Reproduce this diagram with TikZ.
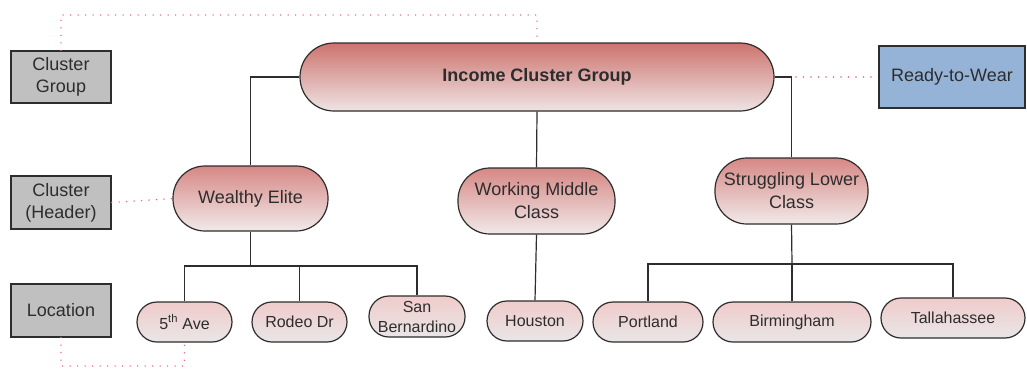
\documentclass[tikz,border=0pt]{standalone}
\usepackage{fontspec}
\setmainfont{Liberation Sans}
\definecolor{cOneT}{RGB}{205,115,110}
\definecolor{cOneB}{RGB}{238,228,228}
\definecolor{cTwoT}{RGB}{214,136,133}
\definecolor{cTwoB}{RGB}{241,233,233}
\definecolor{cThrT}{RGB}{240,203,203}
\definecolor{cThrB}{RGB}{233,230,230}
\definecolor{grayfill}{RGB}{192,192,192}
\definecolor{bluefill}{RGB}{149,179,215}
\definecolor{pinkdot}{RGB}{240,100,120}
\definecolor{edgec}{RGB}{45,45,45}
\definecolor{txtc}{RGB}{45,45,45}
\begin{document}
\begin{tikzpicture}[x=1pt,y=-1pt,
  labelbox/.style={draw=edgec, line width=1.2pt, fill=grayfill, text=txtc,
    font=\fontsize{18}{22}\selectfont, align=center, inner sep=0pt,
    minimum width=100pt, minimum height=53pt},
  bluebox/.style={labelbox, fill=bluefill, minimum width=146pt, minimum height=62pt},
  pill/.style={draw=edgec, line width=1.2pt, inner sep=0pt, align=center, text=txtc},
  lvlone/.style={pill, top color=cOneT, bottom color=cOneB, rounded corners=34pt,
    font=\bfseries\fontsize{18}{22}\selectfont},
  lvltwo/.style={pill, top color=cTwoT, bottom color=cTwoB, rounded corners=32pt,
    font=\fontsize{18}{23}\selectfont, minimum height=66pt},
  lvlthree/.style={pill, top color=cThrT, bottom color=cThrB, rounded corners=20pt,
    font=\fontsize{16}{20}\selectfont, minimum height=40pt},
  conn/.style={draw=edgec, line width=1.2pt},
  pinkline/.style={draw=pinkdot, line width=1.6pt, line cap=round, dash pattern=on 0pt off 7.5pt}
]
\fill[white] (0,0) rectangle (1027,370);
\useasboundingbox (0,0) rectangle (1027,370);

% legend boxes
\node[labelbox, minimum height=52pt] (cg) at (61,77) {Cluster\\Group};
\node[labelbox] (ch) at (61,202.5) {Cluster\\(Header)};
\node[labelbox] (loc) at (61,310.5) {Location};
\node[bluebox] (rtw) at (952,77) {Ready-to-Wear};

% level 1
\node[lvlone, minimum width=474pt, minimum height=68pt] (icg) at (537,77) {Income Cluster Group};

% level 2
\node[lvltwo, minimum width=155pt, minimum height=65pt] (we) at (250.5,198.5) {Wealthy Elite};
\node[lvltwo, minimum width=157pt] (wmc) at (536.5,201) {Working Middle\\Class};
\node[lvltwo, minimum width=153pt] (slc) at (791.5,191) {Struggling Lower\\Class};

% level 3
\node[lvlthree, minimum width=95pt] (ave) at (184.5,322) {5\textsuperscript{th} Ave};
\node[lvlthree, minimum width=95pt] (rod) at (299.5,322) {Rodeo Dr};
\node[lvlthree, minimum width=96pt, minimum height=41pt] (sbe) at (417,316.5) {San\\Bernardino};
\node[lvlthree, minimum width=96pt] (hou) at (535,321) {Houston};
\node[lvlthree, minimum width=110pt] (por) at (648,322) {Portland};
\node[lvlthree, minimum width=158pt] (bir) at (792,322) {Birmingham};
\node[lvlthree, minimum width=144pt] (tal) at (953,318) {Tallahassee};

% tree connectors
\draw[conn] (icg.west) -| (we.north);
\draw[conn] (icg.south) -- (wmc.north);
\draw[conn] (icg.east) -| (slc.north);

\coordinate (wj) at (250.5,266);
\draw[conn] (we.south) -- (wj);
\draw[conn] (wj) -| (ave.north);
\draw[conn] (wj) -| (rod.north);
\draw[conn] (wj) -| (sbe.north);

\draw[conn] (wmc.south) -- (hou.north);

\coordinate (sj) at (792,264);
\draw[conn] (slc.south) -- (sj);
\draw[conn] (sj) -| (por.north);
\draw[conn] (sj) -- (bir.north);
\draw[conn] (sj) -| (tal.north);

% pink dotted guides
\coordinate (ptop) at (61,15);
\coordinate (pbot) at (61,366);
\coordinate (prt) at (796,77);
\draw[pinkline] (cg.north) -- (ptop) -| (icg.north);
\draw[pinkline] (ch.east) -- (we.west);
\draw[pinkline] (prt) -- (rtw.west);
\draw[pinkline] (loc.south) -- (pbot) -| (ave.south);
\end{tikzpicture}
\end{document}
